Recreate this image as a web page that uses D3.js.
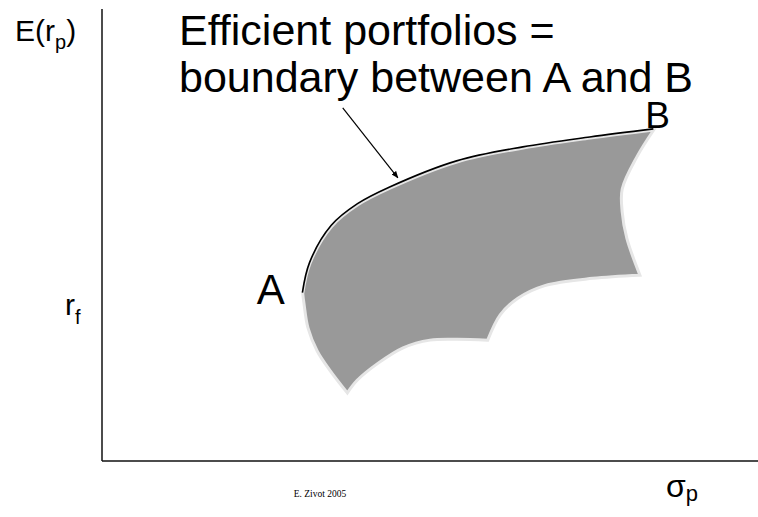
<!DOCTYPE html>
<html><head><meta charset="utf-8">
<script src="https://cdn.jsdelivr.net/npm/d3@7"></script>
<style>body{margin:0;background:#fff}svg{display:block}text{font-family:"Liberation Sans",Arial,sans-serif;fill:#000}</style>
</head><body>
<script>
// Data space: sigma_p on x (0..100), E(r_p) on y (0..100)
const frontier = [[30.6,37.1],[31.7,43.8],[35.0,52.0],[39.0,56.8],[43.9,60.5],[54.1,66.3],[64.2,69.4],[74.4,71.6],[84.1,73.4]];
const rightEdge = [[84.1,73.4],[81.6,67.6],[79.3,60.3],[79.3,55.2],[80.0,49.4],[82.0,41.2]];
const bottomRight = [[82.0,41.2],[74.8,40.5],[67.5,38.9],[63.4,36.1],[60.7,32.4],[58.8,26.8]];
const bottomMid = [[58.8,26.8],[54.1,27.0],[50.0,26.8],[45.9,25.1],[42.1,21.7],[38.9,17.9],[37.4,15.1]];
const leftEdge = [[37.4,15.1],[34.8,20.0],[32.8,24.4],[31.4,29.5],[30.8,34.8],[30.6,37.1]];
const arrow = [[36.7,78.3],[45.1,62.8]];
const labels = {A:[23.6,34.8], B:[82.8,73.9]};

const W=758,H=517;
const svg=d3.select("body").append("svg").attr("width",W).attr("height",H);
const x=d3.scaleLinear().domain([0,100]).range([102,758]);
const y=d3.scaleLinear().domain([0,100]).range([461,10]);

// axes
svg.append("line").attr("x1",x(0)).attr("x2",x(0)).attr("y1",y(100)-1).attr("y2",y(0)).attr("stroke","#111").attr("stroke-width",1.5);
svg.append("line").attr("x1",x(0)).attr("x2",x(100)).attr("y1",y(0)).attr("y2",y(0)).attr("stroke","#111").attr("stroke-width",1.5);

const line=d3.line().x(d=>x(d[0])).y(d=>y(d[1])).curve(d3.curveCatmullRom.alpha(0.5));
const segs=[frontier,rightEdge,bottomRight,bottomMid,leftEdge];
let dStr="";
segs.forEach((s,i)=>{let p=line(s); if(i>0) p="L"+p.slice(1); dStr+=p;});
dStr+="Z";
svg.append("path").attr("d",dStr).attr("fill","#999999").attr("stroke","#e6e6e6").attr("stroke-width",3).attr("stroke-linejoin","miter");

// efficient frontier
svg.append("path").attr("d",line(frontier.map(d=>[d[0]-0.05,d[1]+0.25]))).attr("fill","none").attr("stroke","#000").attr("stroke-width",1.6);

// arrow
svg.append("defs").append("marker").attr("id","ah").attr("viewBox","0 0 10 10").attr("refX",9).attr("refY",5)
 .attr("markerWidth",6).attr("markerHeight",6).attr("orient","auto").append("path").attr("d","M0,1L10,5L0,9Z").attr("fill","#000");
svg.append("line").attr("x1",x(arrow[0][0])).attr("y1",y(arrow[0][1])).attr("x2",x(arrow[1][0])).attr("y2",y(arrow[1][1]))
 .attr("stroke","#000").attr("stroke-width",1.2).attr("marker-end","url(#ah)");

// title
svg.append("text").attr("x",179).attr("y",45).attr("font-size",43).text("Efficient portfolios =");
svg.append("text").attr("x",179).attr("y",92).attr("font-size",43).text("boundary between A and B");

// point labels
svg.append("text").attr("x",x(labels.A[0])).attr("y",y(labels.A[1])).attr("font-size",42).text("A");
svg.append("text").attr("x",x(labels.B[0])).attr("y",y(labels.B[1])).attr("font-size",37).text("B");

// axis labels
const ey=svg.append("text").attr("x",15).attr("y",41).attr("font-size",30);
ey.append("tspan").text("E(r");
ey.append("tspan").attr("font-size",20).attr("dy",8).text("p");
ey.append("tspan").attr("dy",-8).text(")");
const rf=svg.append("text").attr("x",65).attr("y",315).attr("font-size",30);
rf.append("tspan").text("r");
rf.append("tspan").attr("font-size",20).attr("dy",9).text("f");
const sp=svg.append("text").attr("x",666).attr("y",497).attr("font-size",32);
sp.append("tspan").text("σ");
sp.append("tspan").attr("font-size",22).attr("dy",4).text("p");

svg.append("text").attr("x",320).attr("y",497).attr("text-anchor","middle").attr("font-size",9.5)
 .style("font-family","'Liberation Serif','Times New Roman',serif").text("E. Zivot 2005");
</script>
</body></html>
